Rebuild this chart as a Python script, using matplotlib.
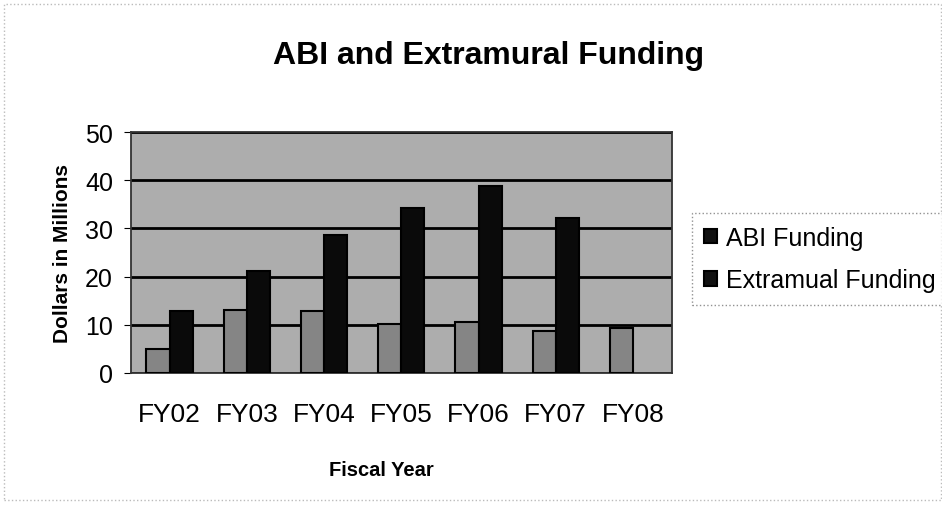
import numpy as np
import matplotlib.pyplot as plt

plt.rcParams['font.family'] = ['Liberation Sans', 'DejaVu Sans']

years = ["FY02", "FY03", "FY04", "FY05", "FY06", "FY07", "FY08"]
abi = [5.0, 13.0, 12.9, 10.2, 10.5, 8.7, 9.3]
# no extramural bar shown for FY08
extramural = [12.9, 21.2, 28.6, 34.2, 38.8, 32.2, np.nan]

fig = plt.figure(figsize=(9.42, 5.06), dpi=100)
ax = fig.add_axes([0.139, 0.261, 0.574, 0.476])
ax.set_facecolor("#adadad")

x = np.arange(len(years))
w = 0.3
ax.bar(x - w / 2, abi, w, color="#858585", edgecolor="black", linewidth=1.5,
       label="ABI Funding", zorder=3)
ax.bar(x + w / 2, extramural, w, color="#0a0a0a", edgecolor="black", linewidth=1.5,
       label="Extramual Funding", zorder=3)

ax.set_xlim(-0.5, len(years) - 0.5)
ax.set_ylim(0, 50)
ax.set_yticks(range(0, 51, 10))
ax.yaxis.grid(True, color="black", linewidth=2, zorder=1)
ax.set_axisbelow(True)
ax.set_xticks(x)
ax.set_xticklabels(years, fontsize=19)
ax.tick_params(axis="y", labelsize=18, length=5, pad=8)
ax.tick_params(axis="x", length=0, pad=21)
for s in ax.spines.values():
    s.set_color("#333333")
    s.set_linewidth(1.3)

ax.set_xlabel("Fiscal Year", fontsize=14.5, fontweight="bold")
ax.xaxis.set_label_coords(0.463, -0.36)
ax.set_ylabel("Dollars in Millions", fontsize=15, fontweight="bold", labelpad=9)
fig.text(0.519, 0.889, "ABI and Extramural Funding", fontsize=23, fontweight="bold",
         ha="center", va="center")

leg = fig.legend(loc="upper left", bbox_to_anchor=(0.7346, 0.577), fontsize=18,
                 frameon=True, fancybox=False, handlelength=0.5, handleheight=0.5,
                 handletextpad=0.35, labelspacing=0.75, borderpad=0.5, borderaxespad=0)
leg.get_frame().set_edgecolor("#777777")
leg.get_frame().set_linestyle(":")
for h in leg.legend_handles:
    h.set_facecolor("#111111")

fig.patches.append(plt.Rectangle((0.004, 0.01), 0.995, 0.98, transform=fig.transFigure,
                                 fill=False, edgecolor="#bbbbbb", linestyle=":", linewidth=1))

fig.savefig("out.png", dpi=100)
